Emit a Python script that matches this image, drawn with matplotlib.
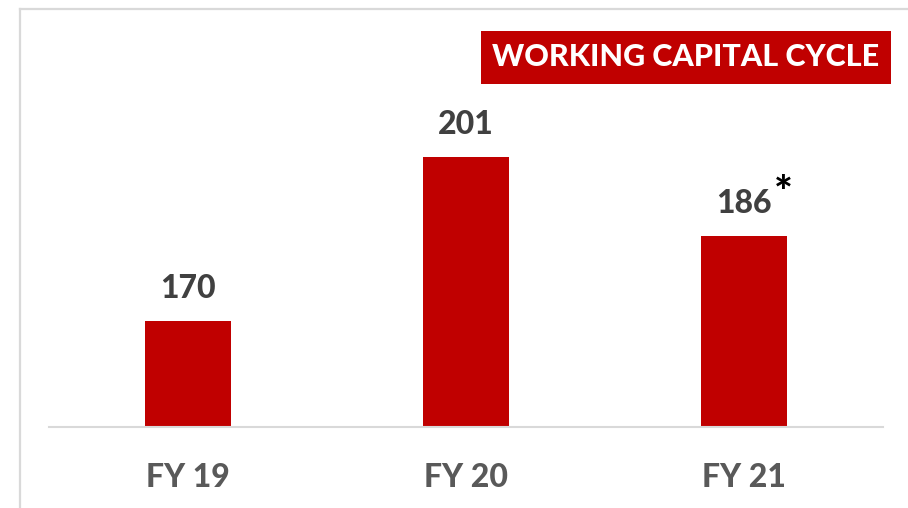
import matplotlib.pyplot as plt
from matplotlib.patches import Rectangle
from matplotlib.lines import Line2D

# data
years = ["FY 19", "FY 20", "FY 21"]
cycle_days = [170, 201, 186]
label_notes = ["", "", "*"]

W, H = 908, 508
red = "#C00000"
plt.rcParams['font.family'] = ['Lato', 'DejaVu Sans']

fig = plt.figure(figsize=(W / 100, H / 100), dpi=100)

# frame lines around the slide area (left and top only)
fig.add_artist(Line2D([20 / W, 20 / W], [0, 1 - 9 / H], color="#D9D9D9", lw=1.6))
fig.add_artist(Line2D([20 / W, 1], [1 - 9 / H, 1 - 9 / H], color="#D9D9D9", lw=1.6))

ax = fig.add_axes([49 / W, (H - 427) / H, (883 - 49) / W, (427 - 82.5) / H])
x = range(len(years))
bars = ax.bar(x, cycle_days, width=0.31, color=red, zorder=2)
ax.set_xlim(-0.5, len(years) - 0.5)
ax.set_ylim(150, 215)

for s in ["top", "right", "left"]:
    ax.spines[s].set_visible(False)
ax.spines["bottom"].set_color("#D9D9D9")
ax.spines["bottom"].set_linewidth(1.5)
ax.set_yticks([])
ax.set_xticks(list(x))
ax.set_xticklabels(years, fontsize=23, fontweight="black", color="#595959")
ax.tick_params(axis="x", length=0, pad=26)

for i, (v, note) in enumerate(zip(cycle_days, label_notes)):
    ax.annotate(str(v), xy=(i, v), xytext=(0, 16.5), textcoords="offset points",
                ha="center", va="baseline", fontsize=23, fontweight="black",
                color="#404040")
    if note:
        ax.annotate(note, xy=(i, v), xytext=(28, 21), textcoords="offset points",
                    ha="center", va="baseline", fontsize=32, fontweight="black",
                    color="black")

# title box
fig.add_artist(Rectangle((481 / W, 1 - 84 / H), (891 - 481) / W, (84 - 31) / H,
                         transform=fig.transFigure, color=red, lw=0))
fig.text(686 / W, 1 - 57.5 / H, "WORKING CAPITAL CYCLE", ha="center", va="center",
         fontsize=22, fontweight="black", color="white")

fig.savefig("out.png", dpi=100)
